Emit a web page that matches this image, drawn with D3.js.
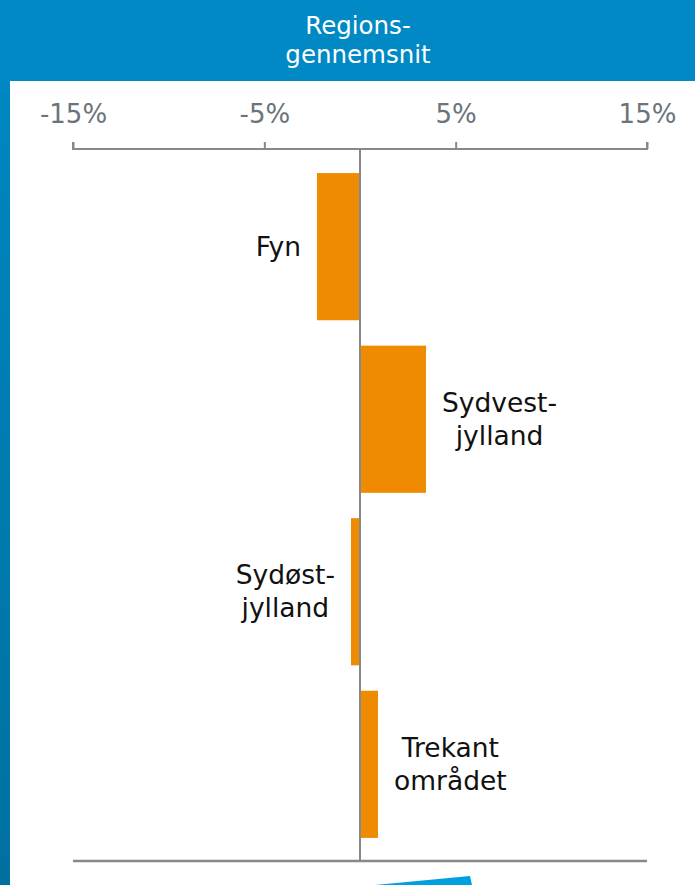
<!DOCTYPE html>
<meta charset="utf-8">
<style>
body { margin: 0; background: #fff; }
text { font-family: "DejaVu Sans", sans-serif; }
</style>
<svg></svg>
<script src="https://d3js.org/d3.v7.min.js"></script>
<script>
var regions = [["Fyn"], ["Sydvest-", "jylland"], ["Sydøst-", "jylland"], ["Trekant", "området"]];
var values = [-2.25, 3.45, -0.47, 0.94];
var tickValues = [-15, -5, 5, 15];
var title = ["Regions-", "gennemsnit"];

var width = 695, height = 885;

var svg = d3.select("svg").attr("width", width).attr("height", height);

var grad = svg.append("defs").append("linearGradient")
    .attr("id", "strip").attr("x1", 0).attr("y1", 0).attr("x2", 0).attr("y2", 1);
grad.append("stop").attr("offset", 0).attr("stop-color", "#0089c4");
grad.append("stop").attr("offset", 1).attr("stop-color", "#00709f");

// header band + left strip
svg.append("rect").attr("x", 0).attr("y", 0).attr("width", 10).attr("height", height).attr("fill", "url(#strip)");
svg.append("rect").attr("x", 0).attr("y", 0).attr("width", width).attr("height", 81).attr("fill", "#0089c4");

svg.append("text")
    .attr("y", 34)
    .attr("text-anchor", "middle").attr("fill", "#fff").style("font-size", "24.5px")
  .selectAll("tspan").data(title).join("tspan")
    .attr("x", 358).attr("dy", function(d, i) { return i ? 29 : 0; })
    .text(function(d) { return d; });

var x = d3.scaleLinear().domain([-15, 15]).range([73, 647]);
var y = d3.scaleBand().domain(d3.range(values.length)).range([161, 850])
    .paddingInner(0.147).paddingOuter(0.07);

// top axis
var axis = svg.append("g").attr("transform", "translate(0,149)")
    .call(d3.axisTop(x).tickValues(tickValues).tickSize(7).tickPadding(19)
      .tickFormat(function(d) { return d + "%"; }));
axis.select(".domain").attr("stroke", "#888").attr("stroke-width", 2)
    .attr("d", "M" + x(-15) + ",-7V0H" + x(15) + "V-7");
axis.selectAll(".tick line").attr("stroke", "#888").attr("stroke-width", 2);
axis.selectAll(".tick text").attr("fill", "#6b747b").style("font-size", "26px")
    .style("font-family", "'DejaVu Sans', sans-serif");

// bars
svg.append("g").selectAll("rect").data(values).join("rect")
    .attr("x", function(d) { return x(Math.min(0, d)); })
    .attr("y", function(d, i) { return y(i); })
    .attr("width", function(d) { return Math.abs(x(d) - x(0)); })
    .attr("height", y.bandwidth())
    .attr("fill", "#ee8b00");

// zero line and bottom line
svg.append("line").attr("x1", x(0)).attr("x2", x(0)).attr("y1", 149).attr("y2", 861)
    .attr("stroke", "#888").attr("stroke-width", 2);
svg.append("line").attr("x1", x(-15)).attr("x2", x(15)).attr("y1", 861).attr("y2", 861)
    .attr("stroke", "#888").attr("stroke-width", 2.5);

// labels, centred lines placed 16px off the bar end
var labels = svg.append("g").selectAll("text").data(values).join("text")
    .attr("text-anchor", "middle").attr("fill", "#111").style("font-size", "26.5px");
labels.each(function(d, i) {
  var t = d3.select(this);
  var lines = regions[i];
  var cy = y(i) + y.bandwidth() / 2;
  t.selectAll("tspan").data(lines).join("tspan")
      .attr("x", 0)
      .attr("dy", function(l, j) { return j ? 33 : 0; })
      .text(function(l) { return l; });
  var w = this.getBBox().width;
  var cx = d < 0 ? x(d) - 16 - w / 2 : x(d) + 16 + w / 2;
  t.attr("y", cy - (lines.length - 1) * 33 / 2 + 9);
  t.selectAll("tspan").attr("x", cx);
});

// blue wedge at the bottom
svg.append("path").attr("d", "M375,885L470,876L472,885Z").attr("fill", "#009fe0");
</script>
